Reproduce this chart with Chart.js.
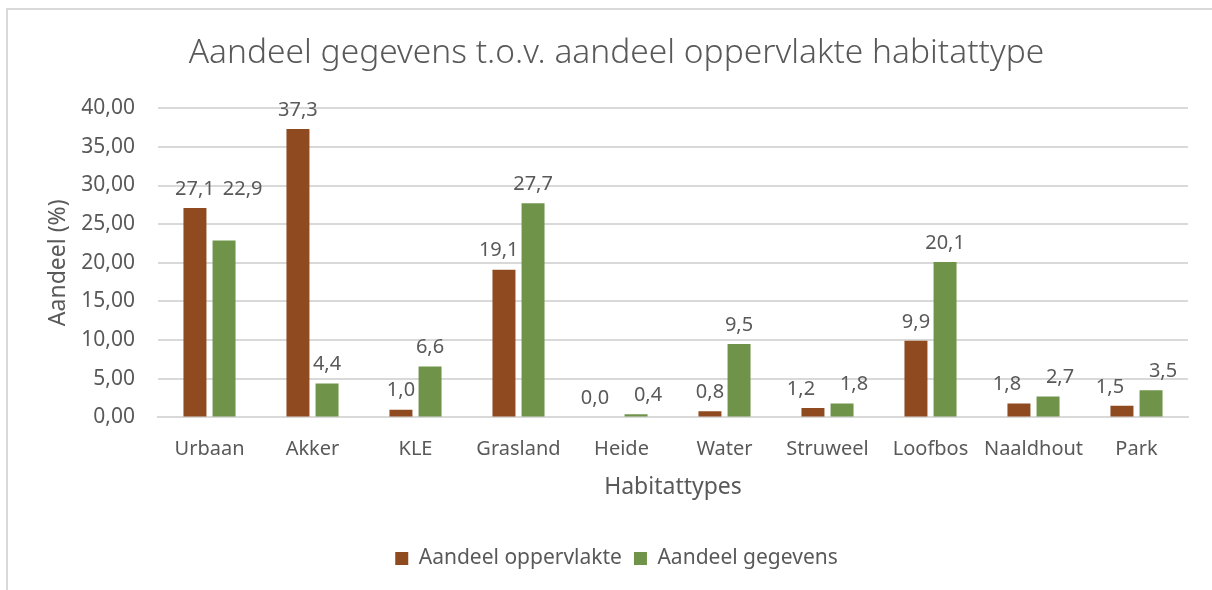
<!DOCTYPE html>
<html>
<head>
<meta charset="utf-8">
<script src="https://cdn.jsdelivr.net/npm/chart.js@4.4.0/dist/chart.umd.min.js"></script>
<style>
    html, body { margin: 0; padding: 0; background: #ffffff; }
    #wrap { position: relative; width: 1212px; height: 590px; }
    #frame {
        position: absolute; left: 6px; top: 8px; right: -4px; bottom: -4px;
        border-left: 2px solid #d9d9d9; border-top: 2px solid #d9d9d9;
    }
    canvas { position: absolute; left: 0; top: 0; }
</style>
</head>
<body>
<div id="wrap">
    <div id="frame"></div>
    <canvas id="chart" width="1212" height="590"></canvas>
</div>
<script>
// Chart data
const habitats = ['Urbaan', 'Akker', 'KLE', 'Grasland', 'Heide', 'Water', 'Struweel', 'Loofbos', 'Naaldhout', 'Park'];
const aandeelOppervlakte = [27.1, 37.3, 1.0, 19.1, 0.0, 0.8, 1.2, 9.9, 1.8, 1.5];
const aandeelGegevens = [22.9, 4.4, 6.6, 27.7, 0.4, 9.5, 1.8, 20.1, 2.7, 3.5];
const yTicks = [0, 5, 10, 15, 20, 25, 30, 35, 40];

const textColor = '#595959';
const fontFamily = "'Noto Sans', 'Open Sans', sans-serif";
const labelSize = 20;

// Dutch decimal comma
function nl(value, digits) {
    return value.toFixed(digits).replace('.', ',');
}

// Draw the value above each bar, moving a label aside when it would
// run into the neighbouring bar or the other label of the pair
const valueLabels = {
    id: 'valueLabels',
    afterDatasetsDraw(chart) {
        const ctx = chart.ctx;
        const left = chart.getDatasetMeta(0).data;
        const right = chart.getDatasetMeta(1).data;
        const gap = 9;
        ctx.save();
        ctx.font = labelSize + 'px ' + fontFamily;
        ctx.fillStyle = textColor;
        ctx.textAlign = 'center';
        ctx.textBaseline = 'bottom';
        habitats.forEach((h, j) => {
            const a = left[j], b = right[j];
            const ta = nl(aandeelOppervlakte[j], 1);
            const tb = nl(aandeelGegevens[j], 1);
            const wa = ctx.measureText(ta).width;
            const wb = ctx.measureText(tb).width;
            let ax = a.x, ay = a.y - gap;
            let bx = b.x, by = b.y - gap;
            const bLeft = b.x - b.width / 2;
            const aRight = a.x + a.width / 2;
            if (b.y < ay && ax + wa / 2 > bLeft) {
                // brown label sits beside the taller green bar
                ax = bLeft - 3 - wa / 2;
            } else if (a.y < by && bx - wb / 2 < aRight) {
                // green label sits beside the taller brown bar
                bx = Math.max(aRight + 7, ax + wa / 2 + 8) + wb / 2;
                by = ay;
            } else if (Math.abs(ay - by) < labelSize * 1.2) {
                ax -= 12;
                bx += 12;
            }
            ctx.fillText(ta, ax, ay);
            ctx.fillText(tb, bx, by);
        });
        ctx.restore();
    }
};

const ctx = document.getElementById('chart').getContext('2d');

new Chart(ctx, {
    type: 'bar',
    data: {
        labels: habitats,
        datasets: [
            {
                label: 'Aandeel oppervlakte',
                data: aandeelOppervlakte,
                backgroundColor: '#8f4a1f',
                categoryPercentage: 0.565,
                barPercentage: 0.79
            },
            {
                label: 'Aandeel gegevens',
                data: aandeelGegevens,
                backgroundColor: '#70934a',
                categoryPercentage: 0.565,
                barPercentage: 0.79
            }
        ]
    },
    options: {
        responsive: false,
        animation: false,
        layout: {
            padding: { top: 33, left: 45, right: 24, bottom: 11 }
        },
        plugins: {
            title: {
                display: true,
                text: 'Aandeel gegevens t.o.v. aandeel oppervlakte habitattype',
                color: textColor,
                font: { family: fontFamily, size: 33.5, weight: '300' },
                padding: { top: 0, bottom: 35 }
            },
            legend: {
                position: 'bottom',
                labels: {
                    color: textColor,
                    font: { family: fontFamily, size: 21 },
                    boxWidth: 13,
                    boxHeight: 13,
                    padding: 12
                }
            },
            tooltip: { enabled: false }
        },
        scales: {
            x: {
                grid: { display: false },
                border: { display: true, color: '#d9d9d9', width: 2 },
                ticks: {
                    color: textColor,
                    font: { family: fontFamily, size: labelSize },
                    padding: 12,
                    maxRotation: 0,
                    minRotation: 0,
                    autoSkip: false
                },
                title: {
                    display: true,
                    text: 'Habitattypes',
                    color: textColor,
                    font: { family: fontFamily, size: 23 },
                    padding: { top: 0, bottom: 35 }
                }
            },
            y: {
                min: 0,
                max: 40,
                afterBuildTicks(axis) {
                    axis.ticks = yTicks.map(v => ({ value: v }));
                },
                // fixed axis width so the plot starts where the original does
                afterFit(axis) {
                    axis.width = 113;
                },
                grid: { color: '#d9d9d9', lineWidth: 2, drawTicks: false },
                border: { display: false },
                ticks: {
                    color: textColor,
                    font: { family: fontFamily, size: 21 },
                    padding: 23,
                    callback: v => nl(v, 2)
                },
                title: {
                    display: true,
                    text: 'Aandeel (%)',
                    color: textColor,
                    font: { family: fontFamily, size: 23 },
                    padding: { top: 0, bottom: 8 }
                }
            }
        }
    },
    plugins: [valueLabels]
});
</script>
</body>
</html>
